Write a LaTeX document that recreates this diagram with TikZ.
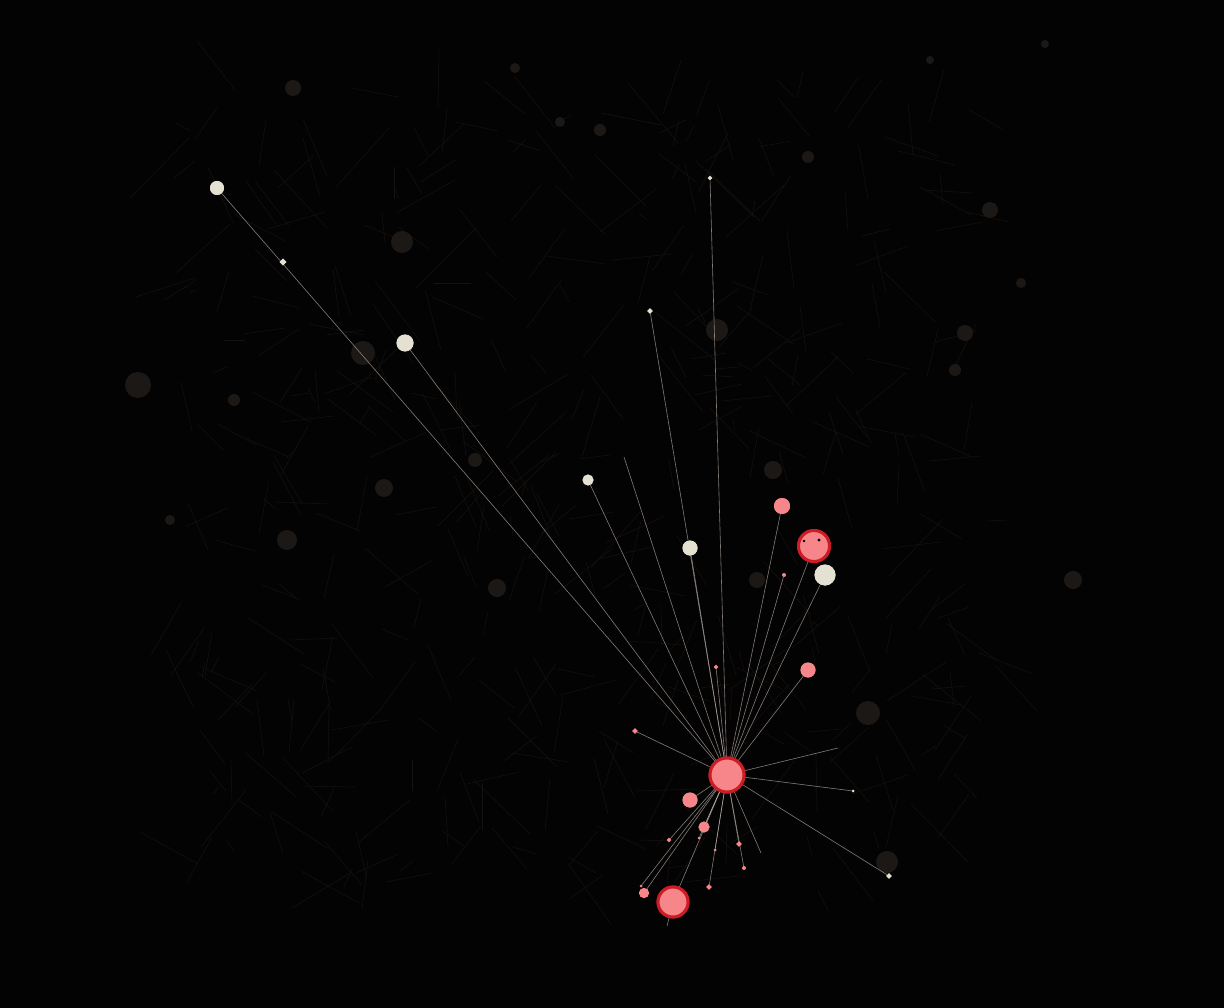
\documentclass[tikz,border=0pt]{standalone}
\usetikzlibrary{shapes.geometric}
\definecolor{bg}{HTML}{040303}
\definecolor{faint}{HTML}{15120F}
\definecolor{faintnode}{HTML}{1C1816}
\definecolor{edge}{HTML}{C8BCB4}
\definecolor{cream}{HTML}{E4E0D2}
\definecolor{pinkf}{HTML}{F7868A}
\definecolor{redb}{HTML}{CC1C26}
\begin{document}
\begin{tikzpicture}[x=1pt,y=-1pt,
  link/.style={draw=edge,line width=0.6pt,opacity=0.65},
  flink/.style={draw=faint,line width=0.5pt},
  hubnode/.style={circle,fill=pinkf,draw=redb,line width=3pt,inner sep=0pt,minimum size=#1},
  pnode/.style={circle,fill=pinkf,draw=none,inner sep=0pt,minimum size=#1},
  cnode/.style={circle,fill=cream,draw=none,inner sep=0pt,minimum size=#1},
  pdia/.style={diamond,fill=pinkf,inner sep=0pt,minimum size=#1},
  cdia/.style={diamond,fill=cream,inner sep=0pt,minimum size=#1},
  bgnode/.style={circle,fill=faintnode,inner sep=0pt,minimum size=#1}]
\fill[bg] (0,0) rectangle (1224,1008);
\useasboundingbox (0,0) rectangle (1224,1008);
% faint background network
\pgfmathsetseed{7}
\foreach \i in {1,...,420}{
  \pgfmathsetmacro{\xa}{180+random(0,820)}
  \pgfmathsetmacro{\ya}{90+random(0,800)}
  \pgfmathsetmacro{\xb}{\xa+random(-60,60)}
  \pgfmathsetmacro{\yb}{\ya+random(-60,60)}
  \draw[flink] (\xa,\ya) -- (\xb,\yb);
}
\foreach \x/\y/\s in {293/88/16,138/385/26,363/353/24,402/242/22,717/330/22,287/540/20,497/588/18,384/488/18,868/713/24,1073/580/18,965/333/16,887/862/22,773/470/18,757/580/16,515/68/10,990/210/16,1021/283/10,234/400/12,475/460/14,600/130/12,560/122/10,808/157/12,170/520/10,955/370/12,1045/44/8,930/60/8}
  \node[bgnode=\s] at (\x,\y) {};
% main nodes
\node[hubnode=34pt] (hub) at (727,775) {};
\node[cnode=14pt] (a) at (217,188) {};
\node[cdia=7pt] (a2) at (283,262) {};
\node[cnode=17pt] (b) at (405,343) {};
\node[cnode=11pt] (c) at (588,480) {};
\coordinate (c2) at (624,457);
\node[cdia=6pt] (d) at (650,311) {};
\node[cdia=5pt] (e) at (710,178) {};
\node[cnode=15pt] (f) at (690,548) {};
\node[pnode=16pt] (g) at (782,506) {};
\node[hubnode=31pt] (h) at (814,546) {};
\node[cnode=21pt] (i) at (825,575) {};
\node[pnode=15pt] (j) at (808,670) {};
\node[pdia=5pt] (k) at (716,667) {};
\node[pnode=4pt] (k2) at (784,575) {};
\node[pdia=6pt] (l) at (635,731) {};
\coordinate (m) at (838,748);
\node[cnode=3pt] (n) at (853,791) {};
\node[cdia=6pt] (o) at (889,876) {};
\coordinate (p) at (761,853);
\node[pnode=4pt] (q) at (744,868) {};
\node[pdia=6pt] (r) at (739,844) {};
\node[pdia=6pt] (s) at (709,887) {};
\node[pnode=11pt] (t) at (704,827) {};
\node[pnode=15pt] (u) at (690,800) {};
\node[pdia=5pt] (v) at (669,840) {};
\node[pnode=10pt] (w) at (644,893) {};
\node[hubnode=30pt] (y) at (673,902) {};
\coordinate (y2) at (667,926);
\node[pnode=3pt] (z1) at (641,886) {};
\node[pnode=3pt] (z2) at (715,850) {};
\node[pnode=3pt] (z3) at (699,838) {};
% links
\foreach \t in {a,b,c,c2,d,e,f,g,h,i,j,k,k2,l,m,n,o,p,q,r,s,t,u,v,w,y,z1,z2,z3}
  \draw[link] (hub) -- (\t);
\draw[link] (y) -- (y2);
% redraw nodes on top
\node[hubnode=34pt] at (hub) {};
\node[hubnode=31pt] at (h) {};
\node[hubnode=30pt] at (y) {};
\node[cnode=14pt] at (a) {};
\node[cdia=7pt] at (a2) {};
\node[cnode=17pt] at (b) {};
\node[cnode=11pt] at (c) {};
\node[cnode=15pt] at (f) {};
\node[pnode=16pt] at (g) {};
\node[cnode=21pt] at (i) {};
\node[pnode=15pt] at (j) {};
\node[pnode=11pt] at (t) {};
\node[pnode=15pt] at (u) {};
\node[pnode=10pt] at (w) {};
\fill[black] (804,541) circle (1.3pt) (819,540) circle (1.6pt);
\end{tikzpicture}
\end{document}
